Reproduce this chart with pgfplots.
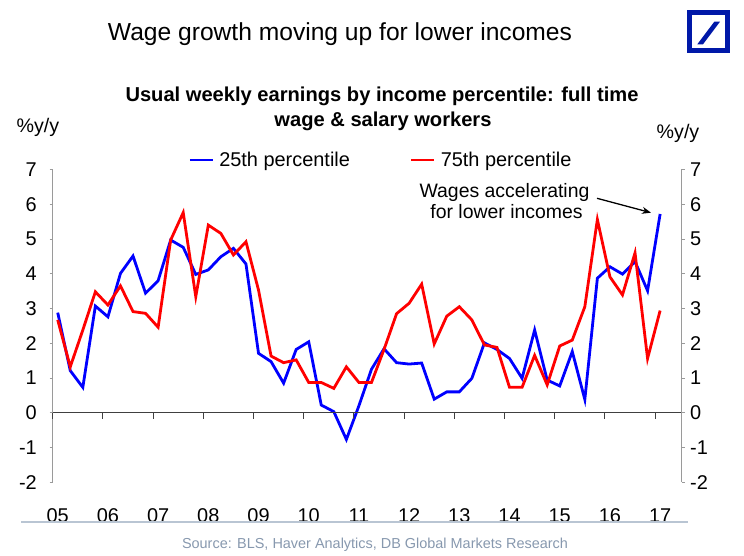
\documentclass[border=0pt]{standalone}
\usepackage{fontspec}
\setmainfont{Liberation Sans}
\usepackage{pgfplots}
\pgfplotsset{compat=1.18}
\usepackage{pgfplotstable}
\usetikzlibrary{arrows.meta}
\definecolor{dbblue}{HTML}{0018A8}
\definecolor{srcgray}{HTML}{8798AE}
\definecolor{sepgray}{HTML}{B9C5D3}
\definecolor{axgray}{HTML}{9A9A9A}

\pgfplotstableread{
x b r
2005.10 2.88 2.67
2005.35 1.21 1.32
2005.60 0.73 2.38
2005.85 3.07 3.48
2006.10 2.76 3.10
2006.35 4.01 3.65
2006.60 4.51 2.91
2006.85 3.44 2.86
2007.10 3.80 2.46
2007.35 4.97 4.97
2007.60 4.76 5.76
2007.85 3.98 3.34
2008.10 4.11 5.40
2008.35 4.49 5.16
2008.60 4.73 4.54
2008.85 4.28 4.92
2009.10 1.71 3.53
2009.35 1.47 1.63
2009.60 0.85 1.44
2009.85 1.82 1.52
2010.10 2.04 0.87
2010.35 0.22 0.87
2010.60 0.03 0.70
2010.85 -0.77 1.32
2011.10 0.20 0.87
2011.35 1.25 0.87
2011.60 1.84 1.82
2011.85 1.44 2.85
2012.10 1.40 3.15
2012.35 1.43 3.70
2012.60 0.39 1.98
2012.85 0.60 2.78
2013.10 0.60 3.05
2013.35 0.99 2.67
2013.60 2.01 1.95
2013.85 1.82 1.88
2014.10 1.56 0.73
2014.35 0.99 0.73
2014.60 2.38 1.65
2014.85 0.94 0.80
2015.10 0.77 1.92
2015.35 1.76 2.09
2015.60 0.38 3.05
2015.85 3.87 5.56
2016.10 4.20 3.91
2016.35 3.99 3.39
2016.60 4.35 4.60
2016.85 3.51 1.56
2017.10 5.72 2.94
}\wages

\pgfplotsset{base/.style={
  scale only axis, width=629bp, height=312.7bp,
  xmin=2005, xmax=2017.53, ymin=-2, ymax=7,
  at={(52.7bp,73.8bp)}, anchor=south west,
  ticklabel style={font=\fontsize{20}{24}\selectfont},
  /pgf/number format/assume math mode=true,
}}

\begin{document}
\begin{tikzpicture}[x=1bp,y=1bp]
\path[use as bounding box] (0,0) rectangle (744,556);

% left axis + data
\begin{axis}[base,
  axis x line=none, axis y line*=left,
  ytick={-2,...,7},
  y axis line style={axgray, line width=0.8bp},
  ytick style={axgray, line width=0.8bp},
  tick align=outside, major tick length=3bp,
  yticklabel style={anchor=east, inner sep=0pt, xshift=-12.7bp},
  legend style={draw=none, fill=none, at={(0.5203,1.0304)}, anchor=center,
    legend columns=2, font=\fontsize{20}{24}\selectfont,
    nodes={inner sep=0pt},
    /tikz/every odd column/.append style={column sep=5bp},
    /tikz/every even column/.append style={column sep=60bp}},
  legend image code/.code={\draw[#1] (0bp,0bp) -- (23bp,0bp);},
]
\addplot[blue, line width=2.8bp] table[x=x, y=b] {\wages};
\addlegendentry{25th percentile}
\addplot[red, line width=2.8bp] table[x=x, y=r] {\wages};
\addlegendentry{75th percentile}
\end{axis}

% x axis at zero
\begin{axis}[base,
  axis y line=none, axis x line*=middle,
  xtick={2005,...,2017}, xticklabels={},
  x axis line style={black!75, line width=0.9bp},
  xtick style={black!75, line width=0.8bp},
  xtick align=outside, major tick length=6bp,
]
\end{axis}

% right axis + bottom labels
\begin{axis}[base,
  axis y line*=right, axis x line*=bottom,
  x axis line style={draw=none},
  xtick={2005.1,2006.1,2007.1,2008.1,2009.1,2010.1,2011.1,2012.1,2013.1,2014.1,2015.1,2016.1,2017.1},
  xticklabels={05,06,07,08,09,10,11,12,13,14,15,16,17},
  xtick style={draw=none},
  xticklabel style={anchor=base, inner sep=0pt, yshift=-37.8bp},
  ytick={-2,...,7},
  y axis line style={axgray, line width=0.8bp},
  ytick style={axgray, line width=0.8bp},
  tick align=outside, major tick length=3bp,
  yticklabel style={anchor=west, inner sep=0pt, xshift=5.3bp},
]
\end{axis}

% titles and texts
\node[anchor=base, font=\fontsize{24.7}{29}\selectfont] at (340,515) {Wage growth moving up for lower incomes};
\node[anchor=base, font=\bfseries\fontsize{20.2}{24}\selectfont] at (382,454.5) {Usual weekly earnings by income percentile: full time};
\node[anchor=base, font=\bfseries\fontsize{20.2}{24}\selectfont] at (383,429) {wage \& salary workers};
\node[anchor=base, font=\fontsize{19.7}{24}\selectfont] at (38,423.5) {\%y/y};
\node[anchor=base, font=\fontsize{19.7}{24}\selectfont] at (678,417) {\%y/y};
\node[anchor=base, font=\fontsize{19.5}{23}\selectfont] at (504.5,358.5) {Wages accelerating};
\node[anchor=base, font=\fontsize{19.5}{23}\selectfont] at (506.5,337) {for lower incomes};
\draw[-{Stealth[length=9bp,width=7bp]}, line width=1.3bp] (597,357.7) -- (651,343.3);

% separator and source
\draw[sepgray, line width=1.5bp] (21,34) -- (688,34);
\node[anchor=base, text=srcgray, font=\fontsize{14.5}{17}\selectfont] at (375,7) {Source: BLS, Haver Analytics, DB Global Markets Research};

% logo
\draw[dbblue, line width=5bp] (689.5,543.5) rectangle (727.5,505.5);
\fill[dbblue] (697.3,511.7) -- (703,511.7) -- (720,534.3) -- (714.3,534.3) -- cycle;
\end{tikzpicture}
\end{document}
